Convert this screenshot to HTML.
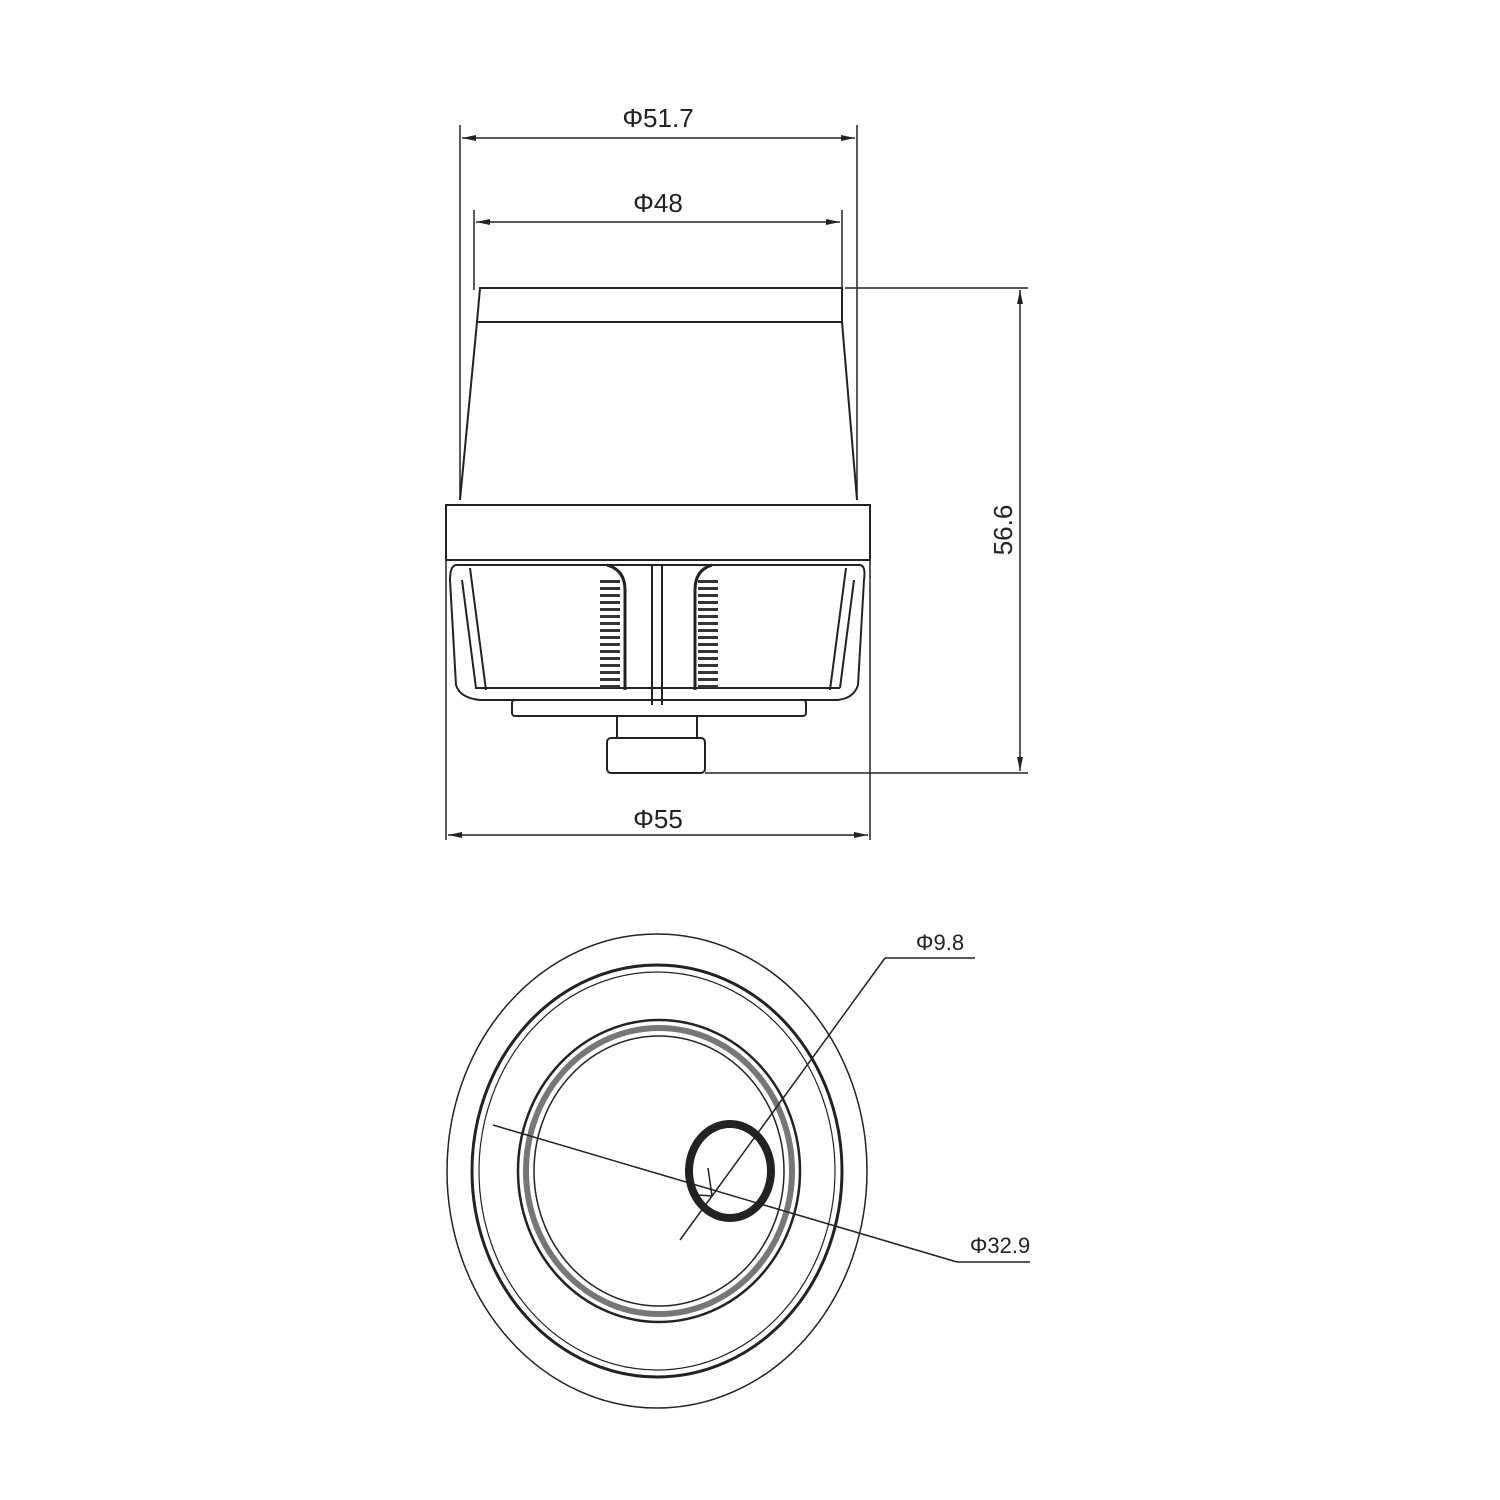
<!DOCTYPE html>
<html><head><style>body{margin:0;background:#fff}svg{display:block}</style></head><body>
<svg width="1500" height="1500" viewBox="0 0 1500 1500" xmlns="http://www.w3.org/2000/svg">
<defs>
<marker id="a" markerWidth="14" markerHeight="8" refX="14" refY="4" orient="auto" markerUnits="userSpaceOnUse"><path d="M0,1 L14,4 L0,7z" fill="#222"/></marker>
<marker id="b" markerWidth="14" markerHeight="8" refX="0" refY="4" orient="auto" markerUnits="userSpaceOnUse"><path d="M14,1 L0,4 L14,7z" fill="#222"/></marker>
</defs>
<g fill="none" stroke="#222" stroke-width="2" font-family="Liberation Sans Narrow, Liberation Sans, sans-serif">
<line x1="460" y1="125" x2="460" y2="500" stroke-width="1.5"/>
<line x1="857" y1="125" x2="857" y2="500" stroke-width="1.5"/>
<line x1="462" y1="138" x2="855" y2="138" marker-start="url(#b)" marker-end="url(#a)" stroke-width="1.5"/>
<line x1="474" y1="210" x2="474" y2="290" stroke-width="1.5"/>
<line x1="842" y1="210" x2="842" y2="290" stroke-width="1.5"/>
<line x1="476" y1="222" x2="840" y2="222" marker-start="url(#b)" marker-end="url(#a)" stroke-width="1.5"/>
<path d="M480,288 L842,288 L842,322 L477,322 Z"/>
<path d="M477,322 L460,500 M842,322 L857,500"/>
<rect x="446" y="505" width="424" height="55"/>
<path d="M456,565 L860,565 Q866,566 864,580 L858,685 Q854,698 838,700 L480,700 Q460,698 456,685 L450,580 Q450,566 456,565Z"/>
<path d="M470,568 L486,690 M846,568 L830,690 M462,580 L476,688 M854,580 L840,688 M475,688 L840,688"/>
<path d="M607,565 Q625,570 625,590 L625,690 M712,565 Q695,570 695,590 L695,690" stroke-width="3"/>
<path d="M610,580 l0,108 M708,580 l0,108" stroke-width="20" stroke-dasharray="3 4" stroke="#333"/>
<path d="M652,565 L652,705 M662,565 L662,705"/>
<rect x="512" y="700" width="294" height="16" rx="3"/>
<path d="M617,716 L617,738 M697,716 L697,738"/>
<rect x="607" y="738" width="98" height="35" rx="4"/>
<line x1="705" y1="773" x2="1028" y2="773" stroke-width="1.5"/>
<line x1="845" y1="288" x2="1028" y2="288" stroke-width="1.5"/>
<line x1="1020" y1="290" x2="1020" y2="771" marker-start="url(#b)" marker-end="url(#a)" stroke-width="1.5"/>
<line x1="446" y1="560" x2="446" y2="840" stroke-width="1.5"/>
<line x1="870" y1="560" x2="870" y2="840" stroke-width="1.5"/>
<line x1="448" y1="835" x2="868" y2="835" marker-start="url(#b)" marker-end="url(#a)" stroke-width="1.5"/>
<ellipse cx="657" cy="1171" rx="210" ry="237" stroke-width="1.5"/>
<ellipse cx="657" cy="1171" rx="185" ry="206" stroke-width="3"/>
<ellipse cx="657" cy="1171" rx="178" ry="199" stroke-width="1.2"/>
<ellipse cx="659" cy="1171" rx="141" ry="151" stroke-width="2.5"/>
<ellipse cx="659" cy="1171" rx="133" ry="143" stroke="#777" stroke-width="6"/>
<ellipse cx="659" cy="1171" rx="125" ry="135" stroke-width="1.5"/>
<ellipse cx="730" cy="1171" rx="41" ry="47" stroke-width="8"/>
<line x1="493" y1="1125" x2="957" y2="1262" stroke-width="1.5"/>
<line x1="957" y1="1262" x2="1030" y2="1262" stroke-width="1.5"/>
<line x1="680" y1="1240" x2="885" y2="958" stroke-width="1.5"/>
<line x1="885" y1="958" x2="975" y2="958" stroke-width="1.5"/>
<path d="M708,1168 L712,1196 L697,1195" stroke-width="1.5"/>
</g>
<g font-family="Liberation Sans, sans-serif" font-size="26" fill="#222" text-anchor="middle">
<text x="658" y="127">Φ51.7</text>
<text x="658" y="212">Φ48</text>
<text x="658" y="828">Φ55</text>
<text x="0" y="0" transform="translate(1012,530) rotate(-90)">56.6</text>
<text x="940" y="950" font-size="22">Φ9.8</text>
<text x="1000" y="1253" font-size="22">Φ32.9</text>
</g>
</svg>
</body></html>
